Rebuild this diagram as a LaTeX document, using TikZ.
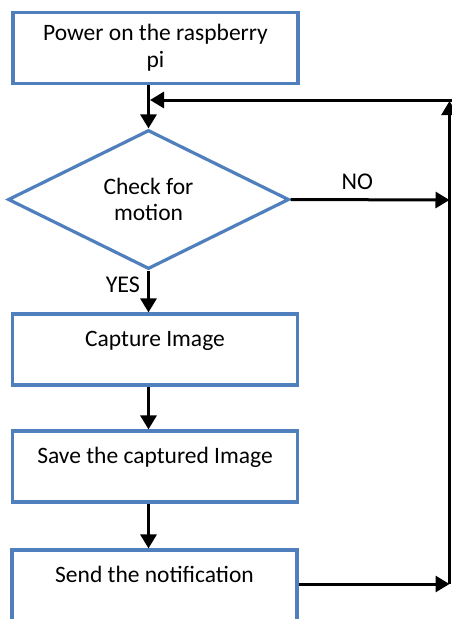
\documentclass[tikz,border=0pt]{standalone}
\usepackage{fontspec}
\setmainfont{Carlito}
\usetikzlibrary{arrows.meta, shapes.geometric}
\definecolor{cblue}{HTML}{4F7FBD}
\tikzset{
  every picture/.style={line width=3.2pt},
  box/.style={draw=cblue, rectangle, minimum width=285pt, minimum height=71pt, align=center, inner sep=0pt, font=\fontsize{23.5}{27}\selectfont},
  process/.style={box, text height=8pt, text depth=14pt},
  decision/.style={draw=cblue, diamond, minimum width=281pt, minimum height=139pt, align=center, inner sep=0pt, font=\fontsize{23.5}{26}\selectfont},
  arrow/.style={-{Triangle[length=14pt, width=16pt]}, draw=black, line width=3pt},
  note/.style={font=\fontsize{24}{26}\selectfont, inner sep=3pt},
}
\begin{document}
\begin{tikzpicture}[x=1pt, y=-1pt]
  \clip (0,0) rectangle (452,619);
  \fill[white] (0,0) rectangle (452,619);
  \node[box] (power) at (155.5,48) {Power on the raspberry\\pi};
  \node[decision] (check) at (148.5,199.5) {Check for\\motion};
  \node[process] (capture) at (155,349.5) {Capture Image};
  \node[process] (save) at (155,466.5) {Save the captured Image};
  \node[process] (send) at (154.5,585.5) {Send the notification};
  % right-hand return line
  \coordinate (rtop) at (449.5,101);
  \coordinate (rno) at (449.5,200);
  \coordinate (rbot) at (449.5,584);
  \coordinate (ledge) at (453,100);
  \coordinate (join) at (150,100);
  \draw[arrow] (power.south -| check.north) -- (check.north);
  \draw[arrow] (ledge) -- (join);
  \draw[arrow] (check.east) -- node[note, above=6pt, pos=0.42] {NO} (rno);
  \draw[arrow] (check.south) -- node[note, left=4pt, pos=0.33] {YES} (capture.north -| check.south);
  \draw[arrow] (capture.south -| check.south) -- (save.north -| check.south);
  \draw[arrow] (save.south -| check.south) -- (send.north -| check.south);
  \draw[arrow] (send.east |- rbot) -- (rbot);
  \draw[arrow, line width=2.4pt] (rbot) -- (rtop);
\end{tikzpicture}
\end{document}
